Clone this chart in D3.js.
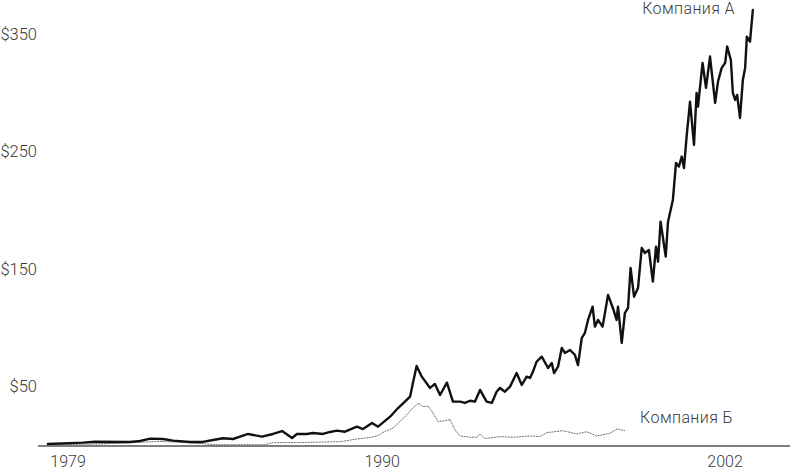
<!DOCTYPE html>
<html>
<head>
<meta charset="utf-8">
<script src="https://cdn.jsdelivr.net/npm/d3@7"></script>
<style>
  html, body { margin: 0; padding: 0; background: #fff; }
  svg text { font-family: Roboto, "Noto Sans", sans-serif; font-weight: 300; fill: #3a3a3a; }
</style>
</head>
<body>
<svg id="chart" width="790" height="471"></svg>
<script>
// ---- Data (decimal year, value in $) ----
const yearsA = [1978.33,1979.56,1979.98,1981.21,1981.56,1981.91,1982.36,1982.71,1983.31,1983.76,
  1984.11,1984.46,1984.81,1985.06,1985.34,1985.83,1986.21,1986.53,1986.88,1987.05,
  1987.40,1987.61,1987.96,1988.21,1988.45,1988.73,1989.15,1989.36,1989.68,1989.89,
  1990.31,1990.59,1990.83,1991.01,1991.11,1991.24,1991.42,1991.71,1991.88,1992.06,
  1992.30,1992.51,1992.76,1992.93,1993.11,1993.28,1993.46,1993.69,1993.87,1994.04,
  1994.16,1994.33,1994.51,1994.74,1994.92,1995.09,1995.21,1995.31,1995.44,1995.62,
  1995.84,1995.97,1996.05,1996.19,1996.32,1996.43,1996.61,1996.78,1996.89,1997.02,
  1997.13,1997.24,1997.40,1997.48,1997.59,1997.75,1997.94,1998.11,1998.24,1998.29,
  1998.42,1998.53,1998.64,1998.73,1998.85,1998.99,1999.12,1999.23,1999.37,1999.51,
  1999.62,1999.69,1999.78,1999.96,2000.04,2000.21,2000.32,2000.42,2000.52,2000.60,
  2000.69,2000.81,2000.95,2001.04,2001.09,2001.25,2001.37,2001.51,2001.69,2001.79,
  2001.92,2002.04,2002.11,2002.24,2002.31,2002.39,2002.46,2002.56,2002.66,2002.74,
  2002.80,2002.91,2003.01];
const valuesA = [0.9,2.0,2.8,2.6,3.4,5.4,5.1,3.7,2.6,2.6,
  4.3,5.7,5.1,7.1,9.4,7.1,9.4,11.9,6.0,9.4,
  9.4,10.2,9.4,11.1,12.2,11.3,15.6,13.6,18.7,15.6,
  24.1,31.5,36.9,41.1,52.8,67.3,58.2,48.6,52.0,42.6,
  53.1,36.9,36.9,35.8,37.7,36.9,46.9,36.9,35.8,45.4,
  48.6,45.4,49.7,61.3,51.1,58.2,57.1,62.4,71.0,75.2,
  65.6,69.9,61.3,66.7,82.6,78.4,80.9,76.7,68.1,91.1,
  95.4,106.5,117.8,100.8,106.5,100.8,127.8,116.7,106.5,117.8,
  86.9,112.4,116.7,150.8,126.3,133.7,167.8,163.5,166.1,139.1,
  168.9,156.1,190.2,160.4,190.2,208.7,240.2,237.1,245.6,235.9,
  262.4,292.4,255.5,299.8,288.2,325.4,304.1,330.8,291.3,309.5,
  321.1,325.4,339.3,327.9,299.8,293.9,298.1,278.5,310.9,321.1,
  347.8,343.5,370.5];

const yearsB = [1978.33,1980.16,1981.80,1982.26,1982.71,1983.66,1983.83,1984.18,1985.93,1986.18,
  1987.16,1988.56,1989.15,1989.61,1989.85,1990.10,1990.41,1990.66,1990.89,1991.11,
  1991.29,1991.46,1991.64,1991.81,1991.99,1992.23,1992.41,1992.58,1992.76,1993.11,
  1993.34,1993.46,1993.63,1994.16,1994.61,1995.21,1995.56,1995.79,1996.36,1996.84,
  1997.19,1997.54,1998.01,1998.25,1998.53];
const valuesB = [0.2,0.9,2.6,3.0,2.6,1.3,0.9,0.2,0.2,2.0,
  2.1,2.8,5.1,6.4,7.7,11.1,14.5,19.9,25.6,31.5,
  35.5,32.6,33.2,27.3,19.9,20.7,21.7,12.8,7.7,6.6,
  6.6,9.4,5.5,7.1,6.6,7.7,7.2,10.5,12.2,9.4,
  11.3,7.7,10.0,13.6,12.2];

const seriesNames = ["Компания А", "Компания Б"];
const yTicks = [50, 150, 250, 350];
const xTicks = [1979, 1990, 2002];

// ---- Chart ----
const svg = d3.select("#chart");
const x = d3.scaleLinear().domain([1979, 2002]).range([67, 724]);
const y = d3.scaleLinear().domain([0, 350]).range([445, 34]);

const seriesA = yearsA.map((yr, i) => ({ t: yr, v: valuesA[i] }));
const seriesB = yearsB.map((yr, i) => ({ t: yr, v: valuesB[i] }));

const line = d3.line().x(d => x(d.t)).y(d => y(d.v)).curve(d3.curveLinear);

// Y labels (no axis line)
svg.append("g").selectAll("text").data(yTicks).join("text")
  .attr("x", 37).attr("y", d => y(d)).attr("dy", "0.35em")
  .attr("text-anchor", "end").attr("font-size", 16.5)
  .text(d => "$" + d);

// Series B (thin grey, dotted look)
svg.append("path").datum(seriesB)
  .attr("d", line).attr("fill", "none")
  .attr("stroke", "#707070").attr("stroke-width", 1)
  .attr("stroke-dasharray", "2,0.8")
  .attr("stroke-linejoin", "round");

// Series A (bold black)
svg.append("path").datum(seriesA)
  .attr("d", line).attr("fill", "none")
  .attr("stroke", "#111").attr("stroke-width", 2.4)
  .attr("stroke-linejoin", "round").attr("stroke-linecap", "round");

// Baseline axis
const xAxisG = svg.append("g").attr("transform", `translate(0,${y(0) + 1})`);
xAxisG.append("line").attr("x1", 38).attr("x2", 790)
  .attr("stroke", "#555").attr("stroke-width", 1.6);
xAxisG.selectAll("text").data(xTicks).join("text")
  .attr("x", d => x(d) + 1).attr("y", 21)
  .attr("text-anchor", "middle").attr("font-size", 16)
  .text(d => d);

// Series labels
svg.append("text").attr("x", 735).attr("y", 14).attr("text-anchor", "end")
  .attr("font-size", 16).attr("letter-spacing", 0.4).text(seriesNames[0]);
svg.append("text").attr("x", 733).attr("y", 423).attr("text-anchor", "end")
  .attr("font-size", 16).attr("letter-spacing", 0.4).text(seriesNames[1]);
</script>
</body>
</html>
